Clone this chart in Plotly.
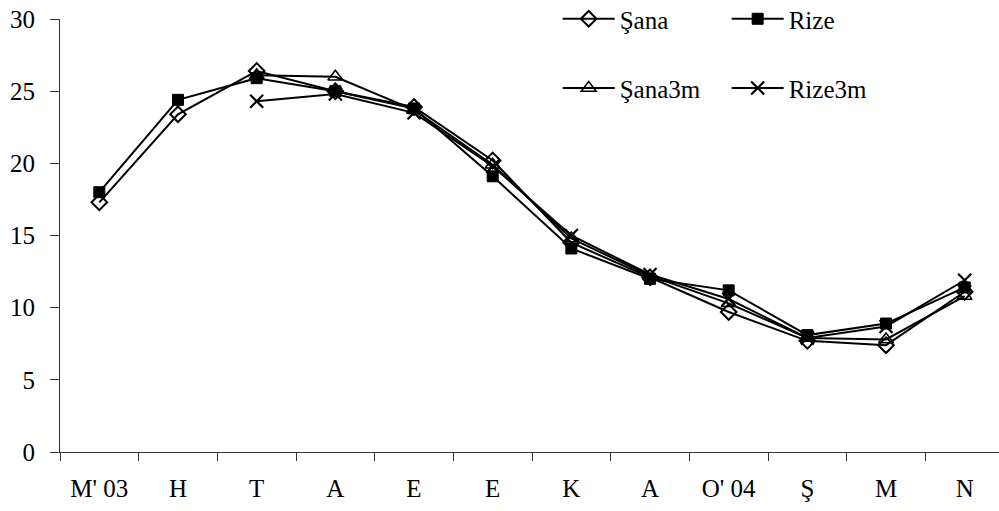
import plotly.graph_objects as go

# Month labels (May 2003 .. November 2004 sampling)
months = ["M' 03", "H", "T", "A", "E", "E", "K", "A", "O' 04", "Ş", "M", "N"]
x_pos = list(range(len(months)))

sana = [17.3, 23.4, 26.4, 25.0, 23.9, 20.2, 14.5, 12.1, 9.7, 7.7, 7.4, 11.1]
rize = [18.0, 24.4, 25.9, 25.0, 23.8, 19.1, 14.1, 12.0, 11.2, 8.1, 8.9, 11.4]
sana3m = [None, None, 26.1, 26.0, 23.7, 19.9, 14.8, 12.2, 10.3, 7.9, 7.8, 10.8]
rize3m = [None, None, 24.3, 24.8, 23.5, 19.8, 15.0, 12.3, 10.6, 7.9, 8.7, 11.9]

y_ticks = [0, 5, 10, 15, 20, 25, 30]

FONT = "Liberation Serif, Times New Roman, serif"
BLACK = "#000000"

fig = go.Figure()

series = [
    ("Şana", sana, dict(symbol="diamond-open", size=12, line=dict(width=2, color=BLACK)), "legend"),
    ("Rize", rize, dict(symbol="square", size=11, line=dict(width=1, color=BLACK)), "legend"),
    ("Şana3m", sana3m, dict(symbol="triangle-up-open", size=13, line=dict(width=1.5, color=BLACK)), "legend2"),
    ("Rize3m", rize3m, dict(symbol="x-thin-open", size=13, line=dict(width=2.2, color=BLACK)), "legend2"),
]

for name, vals, marker, leg in series:
    fig.add_trace(go.Scatter(
        x=x_pos, y=vals, name=name, mode="lines+markers",
        line=dict(color=BLACK, width=2),
        marker=dict(color=BLACK, **marker),
        legend=leg,
    ))

legend_common = dict(
    orientation="h", xanchor="left", yanchor="middle",
    font=dict(family=FONT, size=25, color=BLACK),
    bgcolor="rgba(0,0,0,0)", itemwidth=52,
    entrywidth=102, entrywidthmode="pixels",
    tracegroupgap=0, itemclick=False,
)

fig.update_layout(
    width=999, height=511,
    margin=dict(l=60, r=0, t=19, b=59, autoexpand=False),
    paper_bgcolor="white", plot_bgcolor="white",
    font=dict(family=FONT, size=25, color=BLACK),
    showlegend=True,
    legend=dict(x=0.530, y=1.000, **legend_common),
    legend2=dict(x=0.530, y=0.840, **legend_common),
    xaxis=dict(
        range=[-0.5, 11.436],
        tickmode="array", tickvals=x_pos, ticktext=months,
        ticks="", showgrid=False, zeroline=False,
        showline=True, linecolor="#333333", linewidth=1,
        ticklabelstandoff=14,
        minor=dict(tickmode="linear", tick0=-0.5, dtick=1,
                   ticks="outside", ticklen=8, tickcolor="#333333", showgrid=False),
        tickfont=dict(family=FONT, size=25, color=BLACK),
    ),
    yaxis=dict(
        range=[0, 30], tickmode="array", tickvals=y_ticks,
        ticks="outside", ticklen=9, tickcolor="#333333",
        showgrid=False, zeroline=False,
        showline=True, linecolor="#333333", linewidth=1,
        ticklabelstandoff=10,
        tickfont=dict(family=FONT, size=25, color=BLACK),
    ),
)

fig.write_html("out.html")
